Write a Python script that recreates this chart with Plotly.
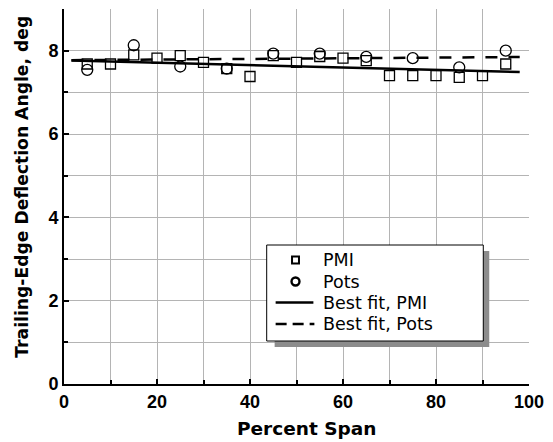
import plotly.graph_objects as go

# Data
pmi_span = [5, 10, 15, 20, 25, 30, 35, 40, 45, 50, 55, 60, 65, 70, 75, 80, 85, 90, 95]
pmi_angle = [7.68, 7.68, 7.90, 7.82, 7.88, 7.72, 7.57, 7.38, 7.88, 7.72, 7.86, 7.82, 7.76,
             7.40, 7.40, 7.40, 7.36, 7.40, 7.68]
pots_span = [5, 15, 25, 35, 45, 55, 65, 75, 85, 95]
pots_angle = [7.54, 8.13, 7.62, 7.57, 7.93, 7.93, 7.85, 7.82, 7.60, 8.00]

# Best-fit lines: [intercept, slope] and span extent
fit_span = [1.6, 98.0]
pmi_fit = [7.77, -0.0029]
pots_fit = [7.77, 0.0008]

legend_labels = ["PMI", "Pots", "Best fit, PMI", "Best fit, Pots"]

SANS = "Liberation Sans, Arial, sans-serif"
WIDE = "DejaVu Sans, sans-serif"


def line_of(coef, xs):
    return [coef[0] + coef[1] * x for x in xs]


fig = go.Figure()
fig.add_trace(go.Scatter(x=pmi_span, y=pmi_angle, mode="markers", name=legend_labels[0],
                         marker=dict(symbol="square-open", size=10, color="black",
                                     line=dict(width=1.3, color="black"))))
fig.add_trace(go.Scatter(x=pots_span, y=pots_angle, mode="markers", name=legend_labels[1],
                         marker=dict(symbol="circle-open", size=11, color="black",
                                     line=dict(width=1.3, color="black"))))
fig.add_trace(go.Scatter(x=fit_span, y=line_of(pmi_fit, fit_span), mode="lines",
                         name=legend_labels[2], line=dict(color="black", width=2.5)))
fig.add_trace(go.Scatter(x=fit_span, y=line_of(pots_fit, fit_span), mode="lines",
                         name=legend_labels[3],
                         line=dict(color="black", width=2.5, dash="12px,11px")))

# ---- layout in pixel terms ----
W, H = 553, 442
L, R, T, B = 64, 532, 9, 384


def px(x):
    # pixel column -> paper coordinate (paper spans the plot area)
    return (x - L) / (R - L)


def py(y):
    # pixel row -> paper coordinate
    return (B - y) / (B - T)


shapes = []
# legend shadow and box
shapes.append(dict(type="rect", xref="paper", yref="paper", x0=px(276), x1=px(492),
                   y0=py(347), y1=py(251), fillcolor="#8c8c8c", line=dict(width=0),
                   layer="above"))
shapes.append(dict(type="rect", xref="paper", yref="paper", x0=px(268), x1=px(486),
                   y0=py(341), y1=py(245), fillcolor="white",
                   line=dict(width=1, color="black"), layer="above"))
rows = [260, 281.5, 302.5, 324]
mx = 297
# square symbol
shapes.append(dict(type="rect", xref="paper", yref="paper", x0=px(mx - 3.5), x1=px(mx + 3.5),
                   y0=py(rows[0] + 3.5), y1=py(rows[0] - 3.5), fillcolor="rgba(0,0,0,0)",
                   line=dict(width=2, color="black"), layer="above"))
# circle symbol
shapes.append(dict(type="circle", xref="paper", yref="paper", x0=px(mx - 4), x1=px(mx + 4),
                   y0=py(rows[1] + 4), y1=py(rows[1] - 4), fillcolor="rgba(0,0,0,0)",
                   line=dict(width=2.4, color="black"), layer="above"))
# line samples
shapes.append(dict(type="line", xref="paper", yref="paper", x0=px(277), x1=px(315),
                   y0=py(rows[2]), y1=py(rows[2]), line=dict(width=2.5, color="black"),
                   layer="above"))
shapes.append(dict(type="line", xref="paper", yref="paper", x0=px(277), x1=px(316),
                   y0=py(rows[3]), y1=py(rows[3]),
                   line=dict(width=2.5, color="black", dash="11px,6px"), layer="above"))

annotations = []
for lab, ry in zip(legend_labels, rows):
    annotations.append(dict(text=lab, xref="paper", yref="paper", x=px(323), y=py(ry),
                            xanchor="left", yanchor="middle", showarrow=False,
                            font=dict(size=17.5, family=WIDE, color="black")))
# axis titles
annotations.append(dict(text="<b>Percent Span</b>", xref="paper", yref="paper",
                        x=px(308), y=py(428), xanchor="center", yanchor="middle",
                        showarrow=False, font=dict(size=18.5, family=WIDE, color="black")))
annotations.append(dict(text="<b>Trailing-Edge Deflection Angle, deg</b>", xref="paper",
                        yref="paper", x=px(21.5), y=py(187), xanchor="center",
                        yanchor="middle", textangle=-90, showarrow=False,
                        font=dict(size=17.2, family=WIDE, color="black")))

grid = "#b4b4b4"
fig.update_layout(
    width=W, height=H,
    margin=dict(l=L, r=W - R, t=T, b=H - B),
    plot_bgcolor="white", paper_bgcolor="white",
    font=dict(family=SANS, color="black"),
    showlegend=False,
    shapes=shapes,
    annotations=annotations,
    xaxis=dict(range=[0, 100], dtick=20, tick0=0, showgrid=True, gridcolor=grid, gridwidth=1,
               minor=dict(dtick=10, showgrid=True, gridcolor=grid, ticks="inside", ticklen=4,
                          tickcolor="black"),
               ticks="inside", ticklen=5, tickwidth=2, tickcolor="black",
               showline=True, linecolor="black", linewidth=2, zeroline=False,
               tickfont=dict(size=18, family=SANS, weight="bold")),
    yaxis=dict(range=[0, 9], dtick=2, tick0=0, showgrid=True, gridcolor=grid, gridwidth=1,
               minor=dict(dtick=1, showgrid=True, gridcolor=grid, ticks="inside", ticklen=4,
                          tickcolor="black"),
               ticks="inside", ticklen=5, tickwidth=2, tickcolor="black",
               showline=True, linecolor="black", linewidth=2, zeroline=False,
               tickfont=dict(size=18, family=SANS, weight="bold")),
)
fig.write_html("out.html")
